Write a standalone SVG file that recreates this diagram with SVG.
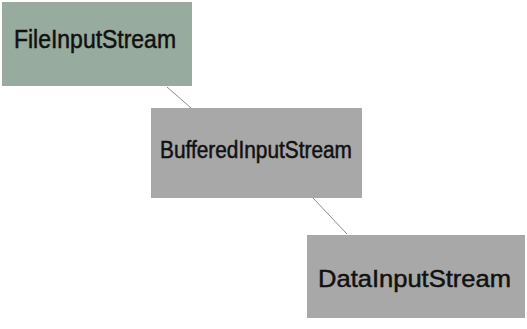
<svg xmlns="http://www.w3.org/2000/svg" width="527" height="329" viewBox="0 0 527 329">
<style>
.box{stroke:none}
.lbl{font-family:"Liberation Sans",Arial,sans-serif;fill:#111;stroke:#111;stroke-width:0.5;font-weight:normal}
.conn{stroke:#8a8a8a;stroke-width:1;fill:none}
</style>
<rect width="527" height="329" fill="#ffffff"/>
<g id="connectors">
<line class="conn" x1="167" y1="87" x2="191" y2="108"/>
<line class="conn" x1="313" y1="198" x2="347" y2="234"/>
</g>
<g id="FileInputStream">
<rect class="box" x="2" y="2" width="190" height="84" fill="#98ab9f"/>
<text class="lbl" x="14" y="48" font-size="25" textLength="162" lengthAdjust="spacingAndGlyphs">FileInputStream</text>
</g>
<g id="BufferedInputStream">
<rect class="box" x="151" y="108" width="211" height="90" fill="#a8a8a8"/>
<text class="lbl" x="160" y="158" font-size="23" textLength="192" lengthAdjust="spacingAndGlyphs">BufferedInputStream</text>
</g>
<g id="DataInputStream">
<rect class="box" x="307" y="235" width="218" height="83" fill="#a8a8a8"/>
<text class="lbl" x="318" y="287" font-size="24.5" textLength="193" lengthAdjust="spacingAndGlyphs">DataInputStream</text>
</g>
</svg>
